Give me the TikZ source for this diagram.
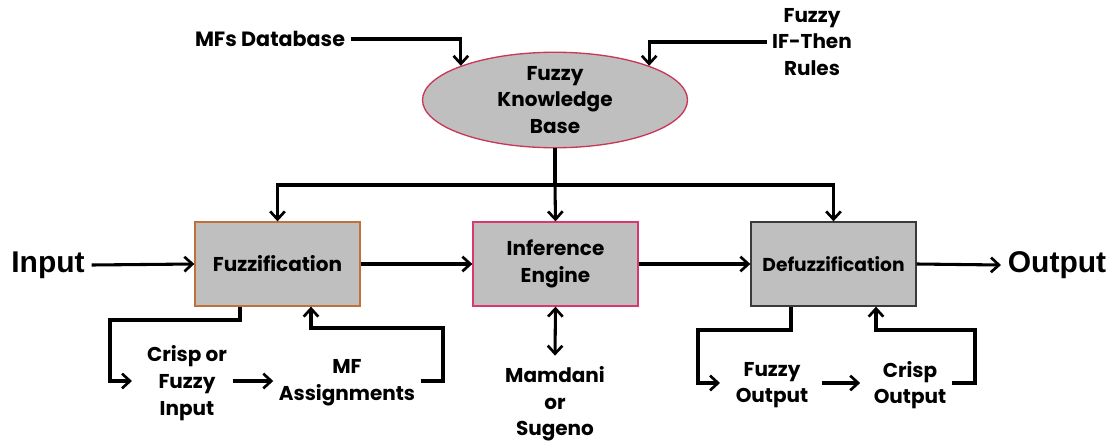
\documentclass[tikz,border=0pt]{standalone}
\usepackage{fontspec}
\setmainfont{Poppins}
\newfontfamily\arialfont{Liberation Sans}
\usetikzlibrary{shapes.geometric,arrows.meta}
\definecolor{boxgray}{HTML}{BFBFBF}
\definecolor{kbborder}{HTML}{C8385A}
\definecolor{fzborder}{HTML}{C0703A}
\definecolor{ieborder}{HTML}{D9376E}
\definecolor{dzborder}{HTML}{3A3A3A}
\tikzset{
  x=0.75pt, y=-0.75pt,
  tfont/.style={font=\bfseries\fontsize{15}{20}\selectfont},
  lbl/.style={tfont, align=center, inner sep=4pt},
  block/.style={draw, fill=boxgray, line width=1pt, minimum width=123.75pt, minimum height=63pt, align=center, tfont},
  big/.style={font=\arialfont\bfseries\fontsize{22.5}{26}\selectfont, inner sep=5pt},
  tip/.tip={Straight Barb[length=6pt,width=11pt,line width=2pt]},
  arr/.style={line width=2.3pt, -tip},
  darr/.style={line width=2.3pt, tip-tip},
  ln/.style={line width=2.3pt},
}
\begin{document}
\begin{tikzpicture}
\useasboundingbox (0,0) rectangle (1116,443);
\node[ellipse, draw=kbborder, fill=boxgray, line width=1pt, minimum width=198.75pt, minimum height=71.25pt, inner sep=0pt, align=center, tfont] (kb) at (555,100) {Fuzzy\\Knowledge\\Base};
\node[lbl, font=\bfseries\fontsize{15.5}{20}\selectfont] (mfdb) at (270,39) {MFs Database};
\node[lbl] (rules) at (812,42) {Fuzzy\\IF-Then\\Rules};
\node[block, draw=fzborder] (fz) at (277.5,264) {Fuzzification};
\node[block, draw=ieborder] (ie) at (555.5,264) {Inference\\Engine};
\node[block, draw=dzborder, font=\bfseries\fontsize{14}{20}\selectfont] (dz) at (833.5,264) {Defuzzification};
\node[big] (input) at (48,265) {Input};
\node[big] (output) at (1057,265) {Output};
\node[lbl] (mam) at (555,404) {Mamdani\\or\\Sugeno};
\node[lbl] (crisp) at (187,383) {Crisp or\\Fuzzy\\Input};
\node[lbl] (mfa) at (347,383) {MF\\Assignments};
\node[lbl] (fo) at (772,385) {Fuzzy\\Output};
\node[lbl] (co) at (910,385) {Crisp\\Output};
\coordinate (j) at (555,185);

\draw[arr] (mfdb.east) -| (kb.north west);
\draw[arr] (rules.west) -| (kb.north east);
\draw[ln] (kb.south) -- (j);
\draw[arr] (j) -- (ie.north);
\draw[arr] (j) -| (fz.north);
\draw[arr] (j) -| (dz.north);
\draw[arr] (input.east) -- (fz.west);
\draw[arr] (fz.east) -- (ie.west);
\draw[arr] (ie.east) -- (dz.west);
\draw[arr] (dz.east) -- (output.west);
\draw[darr] (ie.south) -- ([yshift=4pt]mam.north);

\draw[arr] (240,0 |- fz.south) -- (240,320) -- (110,320) -- (110,381) -- (132,381);
\draw[arr] (crisp.east |- 0,381) -- (mfa.west |- 0,381);
\draw[arr] (mfa.east |- 0,381) -- (443,381) -- (443,328) -- (311,328) -- (311,0 |- fz.south);

\draw[arr] (791,0 |- dz.south) -- (791,330) -- (698,330) -- (698,383) -- (720,383);
\draw[arr,shorten <=6pt,shorten >=6pt] (fo.east |- 0,383) -- (co.west |- 0,383);
\draw[arr] (co.east |- 0,383) -- (975,383) -- (975,330) -- (876,330) -- (876,0 |- dz.south);
\end{tikzpicture}
\end{document}
